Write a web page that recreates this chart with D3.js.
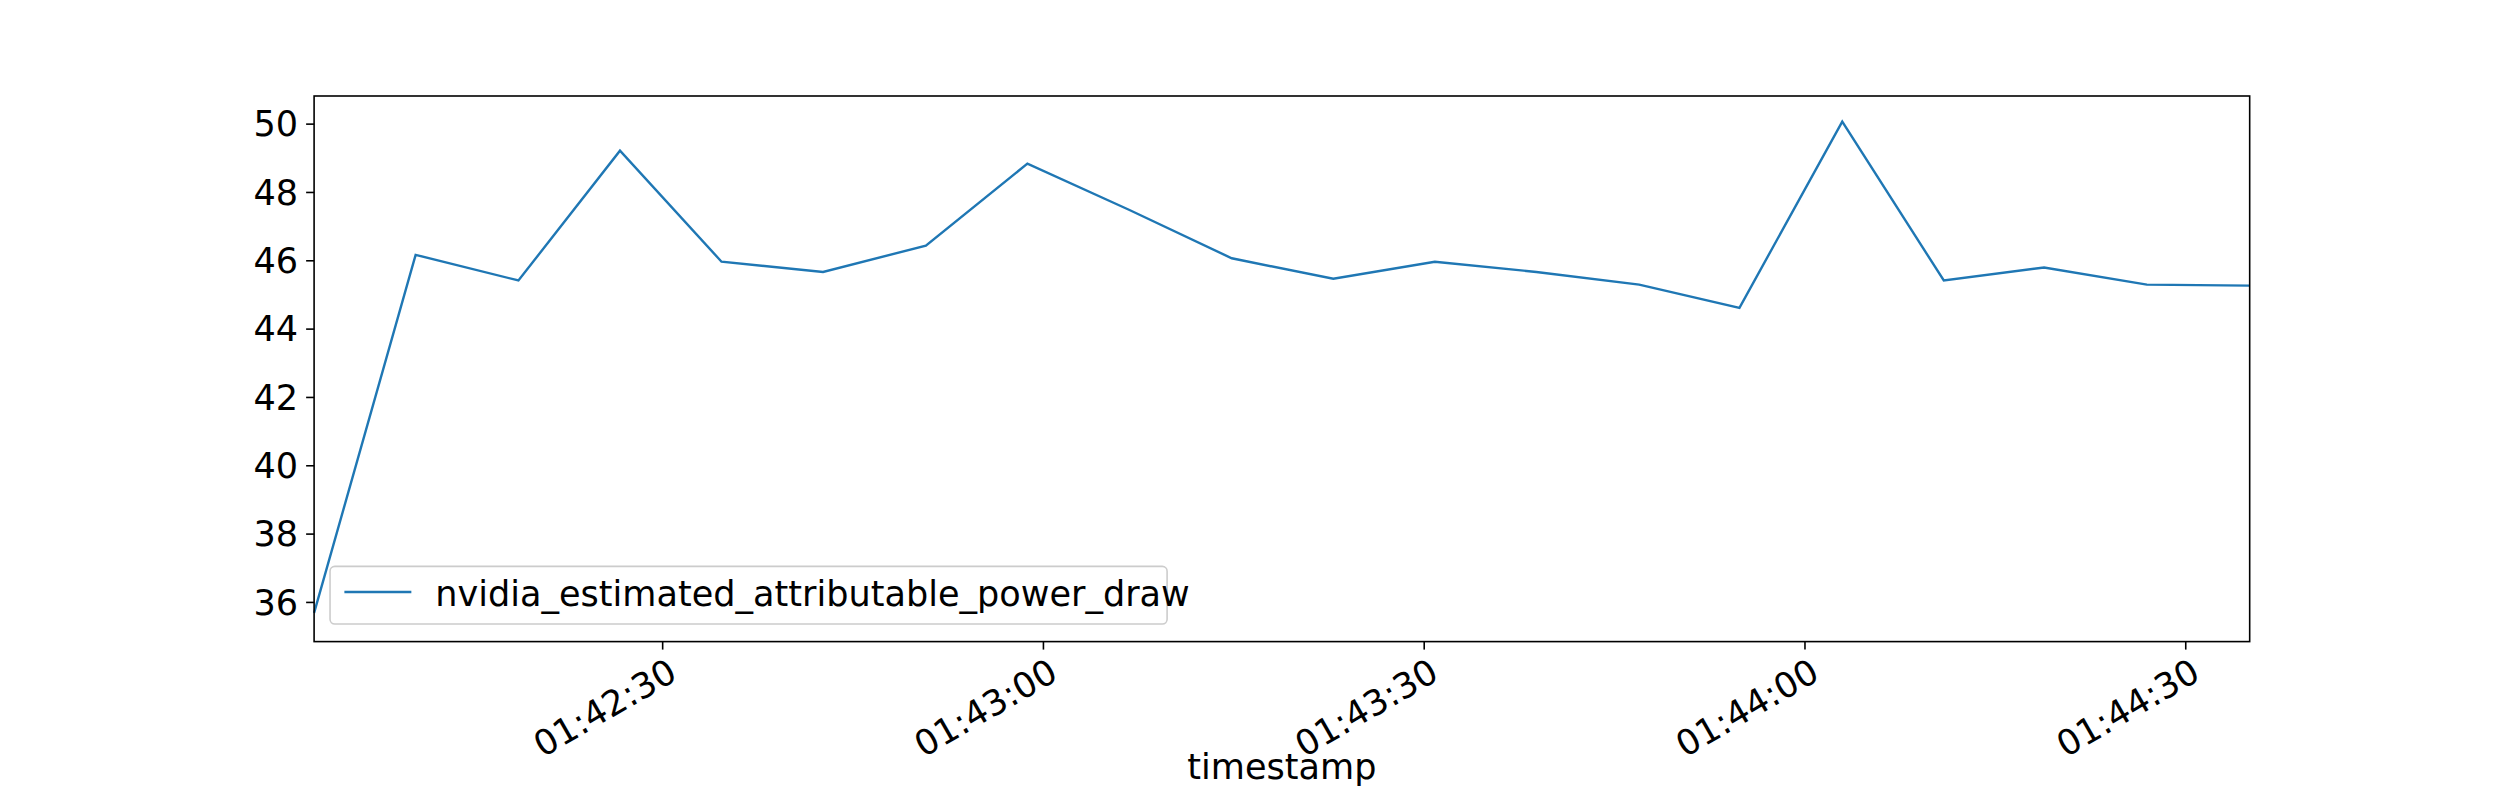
<!DOCTYPE html>
<html><head><meta charset="utf-8">
<script src="https://cdn.jsdelivr.net/npm/d3@7"></script>
<style>body{margin:0;background:#fff}svg{display:block}text{font-family:"DejaVu Sans",sans-serif;fill:#000}</style>
</head><body>
<svg id="chart" width="2500" height="800" viewBox="0 0 1568 500" preserveAspectRatio="none"></svg>
<script>
// seconds after 01:42:00
var times = [2.6, 10.6, 18.7, 26.7, 34.7, 42.7, 50.8, 58.8, 66.8, 74.9, 82.9, 90.9, 98.9, 107.0, 114.9, 123.0, 131.0, 138.9, 147.0, 155.1];
var power = [35.67, 46.15, 45.4, 49.2, 45.95, 45.65, 46.42, 48.82, 47.47, 46.05, 45.45, 45.95, 45.65, 45.28, 44.6, 50.05, 45.4, 45.78, 45.28, 45.25];
var yTicks = [36, 38, 40, 42, 44, 46, 48, 50];
var xTicks = [30, 60, 90, 120, 150];
var xTickLabels = ["01:42:30", "01:43:00", "01:43:30", "01:44:00", "01:44:30"];

var svg = d3.select("#chart");
var L = 197, R = 1411, T = 60, B = 401;
var x = d3.scaleLinear().domain([2.6, 155.1]).range([L, R]);
var y = d3.scaleLinear().domain([34.83, 50.8]).range([B, T]);

var line = d3.line().x(function(d, i) { return x(times[i]); }).y(function(d) { return y(d); });
svg.append("path").attr("d", line(power))
    .style("fill", "none").style("stroke", "#1f77b4").style("stroke-width", 1.5);

svg.append("rect").attr("x", L).attr("y", T).attr("width", R - L).attr("height", B - T)
    .style("fill", "none").style("stroke", "#000").style("stroke-width", 1);

var yAxis = svg.append("g").attr("transform", "translate(" + L + ",0)")
    .call(d3.axisLeft(y).tickValues(yTicks).tickSize(5).tickPadding(5));
yAxis.select(".domain").remove();
yAxis.selectAll("text").style("font-size", "22px").attr("dy", "0.35em");

var xAxis = svg.append("g").attr("transform", "translate(0," + B + ")")
    .call(d3.axisBottom(x).tickValues(xTicks).tickSize(5)
        .tickFormat(function(d, i) { return xTickLabels[i]; }));
xAxis.select(".domain").remove();
xAxis.selectAll("text").style("font-size", "22px")
    .attr("text-anchor", "end").attr("dy", "0").attr("y", 0).attr("x", 0)
    .attr("dominant-baseline", "hanging")
    .attr("transform", "translate(2,9) rotate(-30)");

svg.append("text").attr("x", (L + R) / 2).attr("y", 487).attr("text-anchor", "middle")
    .style("font-size", "22px").text("timestamp");

var lg = svg.append("g");
lg.append("rect").attr("x", 207).attr("y", 354).attr("width", 525).attr("height", 36).attr("rx", 3)
    .style("fill", "#fff").style("fill-opacity", 0.8).style("stroke", "#ccc");
lg.append("line").attr("x1", 216).attr("x2", 258).attr("y1", 370).attr("y2", 370)
    .style("stroke", "#1f77b4").style("stroke-width", 1.5);
lg.append("text").attr("x", 273).attr("y", 379).style("font-size", "22px")
    .text("nvidia_estimated_attributable_power_draw");
</script>
</body></html>
